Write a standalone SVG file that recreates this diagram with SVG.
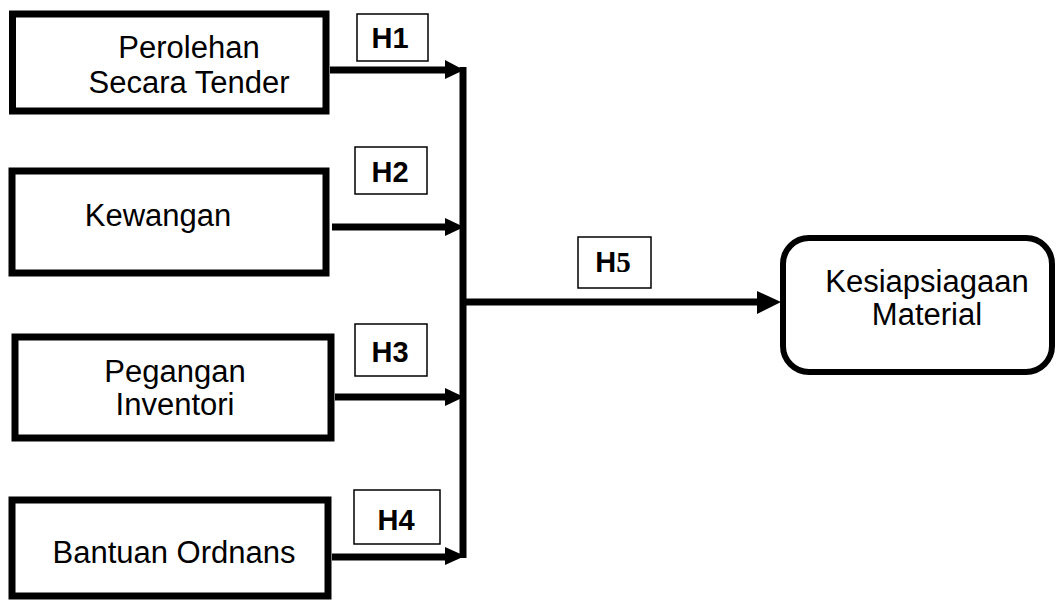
<svg xmlns="http://www.w3.org/2000/svg" width="1056" height="600" viewBox="0 0 1056 600">
<style>
.box{fill:#fff;stroke:#000;stroke-width:7}
.rbox{fill:#fff;stroke:#000;stroke-width:6}
.lbl{fill:#fff;stroke:#000;stroke-width:1.5}
.t{font-family:"Liberation Sans",Arial,sans-serif;font-size:31px;fill:#000;text-anchor:middle}
.h{font-family:"Liberation Sans",Arial,sans-serif;font-size:29px;font-weight:bold;fill:#000;text-anchor:middle}
.ln{stroke:#000;stroke-width:7;fill:none}
</style>
<rect width="1056" height="600" fill="#fff"/>
<g id="connectors">
<line class="ln" x1="463" y1="67" x2="463" y2="558"/>
<line class="ln" x1="330" y1="70" x2="448" y2="70"/>
<polygon points="445,60 464,70 445,79"/>
<line class="ln" x1="332" y1="227" x2="448" y2="227"/>
<polygon points="445,218 464,227 445,236"/>
<line class="ln" x1="335" y1="397" x2="448" y2="397"/>
<polygon points="445,388 464,397 445,406"/>
<line class="ln" x1="332" y1="557" x2="448" y2="557"/>
<polygon points="445,547 465,556 445,565"/>
<line class="ln" x1="463" y1="302" x2="760" y2="302"/>
<polygon points="757,291 781,302 757,314"/>
</g>
<g id="node-perolehan">
<rect class="box" x="12.5" y="14" width="313.5" height="97"/>
<text class="t" x="189" y="58">Perolehan</text>
<text class="t" x="189" y="93">Secara Tender</text>
</g>
<g id="node-kewangan">
<rect class="box" x="12" y="171" width="314" height="102"/>
<text class="t" x="158" y="226">Kewangan</text>
</g>
<g id="node-pegangan">
<rect class="box" x="15" y="337" width="316" height="101"/>
<text class="t" x="175" y="382">Pegangan</text>
<text class="t" x="175" y="415">Inventori</text>
</g>
<g id="node-bantuan">
<rect class="box" x="12" y="500" width="316" height="96"/>
<text class="t" x="174" y="563">Bantuan Ordnans</text>
</g>
<g id="node-kesiapsiagaan">
<rect class="rbox" x="783" y="238" width="269" height="134" rx="26" ry="26"/>
<text class="t" x="927" y="292">Kesiapsiagaan</text>
<text class="t" x="927" y="325">Material</text>
</g>
<g id="label-h1">
<rect class="lbl" x="357" y="14" width="71" height="47"/>
<text class="h" x="390" y="48">H1</text>
</g>
<g id="label-h2">
<rect class="lbl" x="355" y="147" width="72" height="47"/>
<text class="h" x="390" y="182">H2</text>
</g>
<g id="label-h3">
<rect class="lbl" x="355" y="324" width="72" height="52"/>
<text class="h" x="390" y="362">H3</text>
</g>
<g id="label-h4">
<rect class="lbl" x="354" y="490" width="86" height="54"/>
<text class="h" x="396" y="530">H4</text>
</g>
<g id="label-h5">
<rect class="lbl" x="578" y="237" width="73" height="51"/>
<text class="h" x="613" y="272">H<tspan font-family="'Liberation Serif',serif">5</tspan></text>
</g>
</svg>
